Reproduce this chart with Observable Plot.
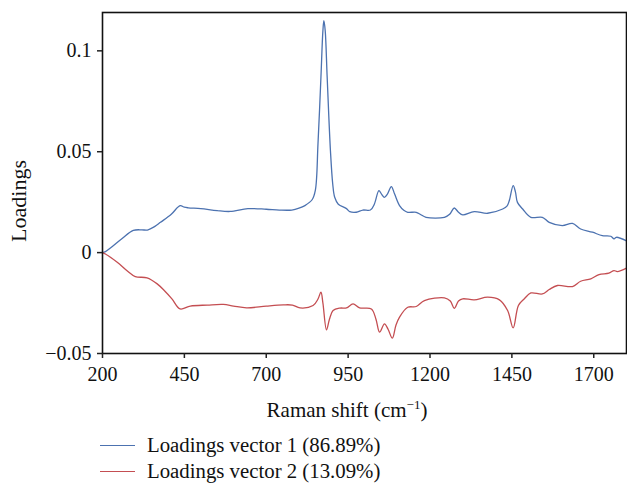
<!DOCTYPE html>
<html><head><meta charset="utf-8">
<script src="https://cdn.jsdelivr.net/npm/d3@7"></script>
<script src="https://cdn.jsdelivr.net/npm/@observablehq/plot@0.6"></script>
<style>
body{margin:0;background:#fff;font-family:"Liberation Serif",serif;overflow:hidden;}
#legend{position:relative;height:59px;}
.row{position:absolute;left:100px;height:28px;display:flex;align-items:center;font-size:20.8px;color:#111;white-space:nowrap;}
.sw{width:35px;height:0;border-top:1.3px solid;margin-right:12px;}
</style></head><body><div id="chart"></div><div id="legend"></div>
<script>
// Loadings vector 1 (blue)
const wn1 = [200,209,230,260,294,320,337,360,377,410,437,450,462,500,550,590,644,700,740,778,800,818,840,850,858,867,873,876,880,886,896,903,909,920,945,955,975,995,1018,1030,1044,1052,1061,1070,1082,1092,1107,1120,1132,1158,1170,1188,1244,1260,1274,1287,1300,1335,1376,1422,1435,1442,1454,1461,1467,1483,1508,1543,1564,1604,1635,1660,1696,1726,1752,1762,1769,1800];
const ld1 = [0.0,0.0005,0.003,0.007,0.011,0.0113,0.0112,0.013,0.015,0.019,0.0233,0.0225,0.0222,0.0218,0.0208,0.0204,0.0218,0.0215,0.0211,0.0211,0.022,0.0233,0.0262,0.031,0.054,0.087,0.110,0.1149,0.110,0.087,0.0505,0.034,0.0274,0.024,0.0218,0.0203,0.020,0.0211,0.0211,0.024,0.0307,0.029,0.0274,0.029,0.0327,0.029,0.0233,0.021,0.0200,0.0200,0.019,0.0175,0.0175,0.019,0.0221,0.020,0.0187,0.0203,0.0195,0.0216,0.023,0.0257,0.0332,0.030,0.0249,0.0216,0.0175,0.0175,0.0150,0.0134,0.0145,0.0117,0.0101,0.0084,0.0081,0.0068,0.0076,0.0058];
// Loadings vector 2 (red)
const wn2 = [200,209,245,275,300,336,367,390,412,437,468,520,569,600,640,700,752,780,803,843,858,867,873,884,893,904,925,945,965,985,1021,1035,1046,1061,1072,1085,1096,1107,1132,1158,1183,1244,1262,1274,1287,1300,1335,1376,1412,1437,1454,1470,1488,1508,1543,1564,1589,1635,1660,1691,1716,1746,1762,1772,1800];
const ld2 = [0.0,-0.0007,-0.0048,-0.009,-0.0119,-0.0125,-0.0155,-0.019,-0.0229,-0.0279,-0.0265,-0.026,-0.0257,-0.0265,-0.0274,-0.0265,-0.0259,-0.026,-0.0274,-0.0262,-0.023,-0.0196,-0.025,-0.0383,-0.033,-0.0287,-0.0275,-0.0274,-0.0254,-0.0274,-0.0279,-0.033,-0.0394,-0.0353,-0.038,-0.0424,-0.036,-0.032,-0.0271,-0.0267,-0.0238,-0.0224,-0.024,-0.0276,-0.024,-0.0229,-0.0234,-0.0221,-0.0234,-0.0287,-0.0373,-0.0262,-0.0229,-0.02,-0.0205,-0.0183,-0.0163,-0.0168,-0.0142,-0.0130,-0.0109,-0.0102,-0.0089,-0.0094,-0.0077];

const xTicks = [200,450,700,950,1200,1450,1700];
const yTicks = [-0.05,0,0.05,0.1];
const seriesNames = ["Loadings vector 1 (86.89%)","Loadings vector 2 (13.09%)"];
const seriesColors = ["#4c72b0","#c44e52"];
const xLabel = "Raman shift (cm";
const xLabelSup = "−1";
const yLabel = "Loadings";

const s1 = wn1.map((w,i)=>({w, v: ld1[i]}));
const s2 = wn2.map((w,i)=>({w, v: ld2[i]}));
const fmtY = d => d === 0 ? "0" : String(d).replace("-", "−");
const fmtX = d => String(d);

const chart = Plot.plot({
  width: 627, height: 425,
  marginLeft: 102, marginRight: 1, marginTop: 12, marginBottom: 72,
  style: {fontFamily: '"Liberation Serif", serif', fontSize: "20px", color: "#111", background: "#fff"},
  x: {domain: [200,1800]},
  y: {domain: [-0.05,0.119]},
  marks: [
    Plot.line(s1, {x:"w", y:"v", stroke: seriesColors[0], strokeWidth: 1.3, curve: "catmull-rom"}),
    Plot.line(s2, {x:"w", y:"v", stroke: seriesColors[1], strokeWidth: 1.3, curve: "catmull-rom"}),
    Plot.frame({stroke: "#111", strokeWidth: 1.6}),
    Plot.axisX(xTicks, {tickSize: 5, tickPadding: 8, label: null, tickFormat: fmtX, stroke: "#222", strokeWidth: 1.5}),
    Plot.axisY(yTicks, {tickSize: 5, tickPadding: 6, label: null, tickFormat: fmtY, stroke: "#222", strokeWidth: 1.5})
  ]
});
document.getElementById("chart").appendChild(chart);

const svg = d3.select(chart);
const xl = svg.append("text").attr("x", 347).attr("y", 417).attr("text-anchor","middle")
  .attr("fill","#111").style("font-size","21px");
xl.append("tspan").text(xLabel);
xl.append("tspan").attr("dy", -8).style("font-size","13px").text(xLabelSup);
xl.append("tspan").attr("dy", 8).text(")");
svg.append("text").attr("transform","translate(26,201) rotate(-90)").attr("text-anchor","middle")
  .attr("fill","#111").style("font-size","22px").text(yLabel);

const lg = document.getElementById("legend");
seriesNames.forEach((n,i)=>{
  const r = document.createElement("div");
  r.className = "row"; r.style.top = (6 + 26*i) + "px";
  const sw = document.createElement("div"); sw.className = "sw"; sw.style.borderColor = seriesColors[i];
  const t = document.createElement("span"); t.textContent = n;
  r.appendChild(sw); r.appendChild(t); lg.appendChild(r);
});
</script></body></html>
